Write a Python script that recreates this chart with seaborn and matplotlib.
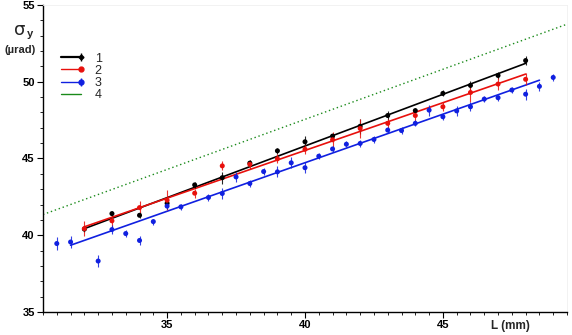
import numpy as np
import pandas as pd
import matplotlib
matplotlib.use("Agg")
import matplotlib.pyplot as plt
from matplotlib.lines import Line2D
from matplotlib.legend_handler import HandlerTuple, HandlerLine2D
from matplotlib.ticker import MultipleLocator
import seaborn as sns

# ---------------- data ----------------
x1 = [32, 33, 34, 35, 36, 37, 38, 39, 40, 41, 42, 43, 44, 45, 46, 47, 48]
y1 = [40.40, 41.41, 41.30, 42.08, 43.28, 43.75, 44.70, 45.50, 46.09, 46.46,
      47.10, 47.80, 48.12, 49.24, 49.76, 50.41, 51.38]
e1 = [0.2, 0.2, 0.2, 0.4, 0.2, 0.4, 0.2, 0.2, 0.4, 0.2,
      0.5, 0.3, 0.2, 0.2, 0.3, 0.2, 0.3]

x2 = [32, 33, 34, 35, 36, 37, 38, 39, 40, 41, 42, 43, 44, 45, 46, 47, 48]
y2 = [40.43, 40.94, 41.80, 42.28, 42.74, 44.52, 44.62, 44.98, 45.60, 46.22,
      46.96, 47.29, 47.80, 48.37, 49.30, 49.85, 50.16]
e2 = [0.5, 0.4, 0.4, 0.65, 0.3, 0.3, 0.3, 0.3, 0.3, 0.5,
      0.6, 0.3, 0.4, 0.3, 0.6, 0.4, 0.4]

x3 = [31, 31.5, 32.5, 33, 33.5, 34, 34.5, 35, 35.5, 36.5, 37, 37.5, 38, 38.5,
      39, 39.5, 40, 40.5, 41, 41.5, 42, 42.5, 43, 43.5, 44, 44.5, 45, 45.5,
      46, 46.5, 47, 47.5, 48, 48.5, 49]
y3 = [39.46, 39.56, 38.32, 40.37, 40.11, 39.66, 40.89, 41.90, 41.85, 42.46,
      42.72, 43.80, 43.37, 44.15, 44.13, 44.72, 44.40, 45.15, 45.62, 45.93,
      45.98, 46.24, 46.85, 46.82, 47.29, 48.15, 47.72, 48.10, 48.37, 48.87,
      48.96, 49.46, 49.19, 49.70, 50.28]
e3 = [0.4, 0.4, 0.4, 0.3, 0.2, 0.3, 0.2, 0.2, 0.2, 0.2,
      0.35, 0.35, 0.2, 0.2, 0.35, 0.35, 0.35, 0.2, 0.2, 0.2,
      0.2, 0.2, 0.2, 0.2, 0.2, 0.35, 0.2, 0.3, 0.3, 0.2,
      0.2, 0.2, 0.35, 0.3, 0.2]

# fitted / model lines (end points)
fit1_x, fit1_y = [32, 48], [40.43, 51.20]
fit2_x, fit2_y = [32, 48], [40.55, 50.50]
fit3_x, fit3_y = [31.5, 48.5], [39.35, 50.10]
fit4_x, fit4_y = [30.5, 49.5], [41.35, 53.75]

series_labels = ["1", "2", "3", "4"]
x_ticks = [35, 40, 45]
y_ticks = [35, 40, 45, 50, 55]

# ---------------- styling ----------------
sns.set_theme(style="ticks")
plt.rcParams["font.family"] = ["Liberation Sans", "DejaVu Sans"]

col1, col2, col3, col4 = "#000000", "#e8100c", "#1020e0", "#1a8a1a"

fig = plt.figure(figsize=(5.72, 3.35), dpi=100)
ax = fig.add_axes([43 / 572, 1 - 312 / 335, 524 / 572, 307 / 335])

pts = pd.concat([
    pd.DataFrame({"L": x1, "s": y1, "e": e1, "series": "1"}),
    pd.DataFrame({"L": x2, "s": y2, "e": e2, "series": "2"}),
    pd.DataFrame({"L": x3, "s": y3, "e": e3, "series": "3"}),
])
fits = pd.concat([
    pd.DataFrame({"L": fit1_x, "s": fit1_y, "series": "1"}),
    pd.DataFrame({"L": fit2_x, "s": fit2_y, "series": "2"}),
    pd.DataFrame({"L": fit3_x, "s": fit3_y, "series": "3"}),
])
palette = {"1": col1, "2": col2, "3": col3}

# model line 4 (dotted)
sns.lineplot(x=fit4_x, y=fit4_y, ax=ax, color=col4, lw=1.0,
             linestyle=(0, (1, 2)), legend=False)

# fit lines
sns.lineplot(data=fits, x="L", y="s", hue="series", palette=palette,
             ax=ax, lw=1.2, legend=False, estimator=None, sort=True)

# error bars
for key, df in pts.groupby("series"):
    ax.errorbar(df["L"], df["s"], yerr=df["e"], fmt="none",
                ecolor=palette[key], elinewidth=0.8, capsize=0, alpha=0.85,
                zorder=3)

# points
sns.scatterplot(data=pts, x="L", y="s", hue="series", palette=palette,
                ax=ax, s=13, linewidth=0, legend=False, zorder=4)

ax.set_xlim(30.5, 49.5)
ax.set_ylim(35, 55)
ax.set_xticks(x_ticks)
ax.set_yticks(y_ticks)
ax.xaxis.set_minor_locator(MultipleLocator(0.5))
ax.yaxis.set_minor_locator(MultipleLocator(1))
ax.tick_params(axis="both", which="major", length=4, width=0.8,
               direction="out", labelsize=8, pad=2, colors="black")
ax.tick_params(axis="both", which="minor", length=2.5, width=0.6,
               direction="out", colors="black")
for lab in ax.get_xticklabels() + ax.get_yticklabels():
    lab.set_fontweight("bold")
ax.set_xlabel("")
ax.set_ylabel("")

for side in ["left", "bottom"]:
    ax.spines[side].set_color("black")
    ax.spines[side].set_linewidth(1.0)
for side in ["top", "right"]:
    ax.spines[side].set_color("#f0f0f0")
    ax.spines[side].set_linewidth(0.6)


# legend: line segment with the marker only at its right end
class EndMarker(HandlerLine2D):
    def create_artists(self, *args, **kwargs):
        arts = super().create_artists(*args, **kwargs)
        for a in arts:
            n = len(a.get_xdata())
            a.set_markevery([n - 1])
        return arts


def mk(c, m, ms):
    return Line2D([0, 1], [0, 0], color=c, marker=m, ms=ms, ls="none")


h1 = (Line2D([0, 1], [0, 0], color=col1, lw=1.6), mk(col1, "|", 6),
      mk(col1, "D", 2.5))
h2 = (Line2D([0, 1], [0, 0], color=col2, lw=1.0), mk(col2, "o", 3.5))
h3 = (Line2D([0, 1], [0, 0], color=col3, lw=1.0), mk(col3, "|", 6),
      mk(col3, "o", 3.5))
h4 = Line2D([0, 1], [0, 0], color=col4, lw=1.0)
ax.legend([h1, h2, h3, h4], series_labels, loc="upper left",
          bbox_to_anchor=(0.034, 0.845), frameon=False, fontsize=9,
          handlelength=1.6, handletextpad=1.1, labelspacing=0.02,
          borderpad=0, borderaxespad=0,
          handler_map={tuple: HandlerTuple(ndivide=1, pad=0),
                       Line2D: EndMarker(numpoints=2, marker_pad=0)})

# axis labels
fig.text(20 / 572, 1 - 30 / 335, "σ", fontsize=13, ha="center", va="center",
         family="DejaVu Sans")
fig.text(27 / 572, 1 - 34 / 335, "y", fontsize=8, ha="left", va="center",
         fontweight="bold")
fig.text(20 / 572, 1 - 50 / 335, "(µrad)", fontsize=8, ha="center",
         va="center", fontweight="bold")
fig.text(510 / 572, 1 - 326 / 335, "L (mm)", fontsize=8.5, ha="center",
         va="center", fontweight="bold")

fig.savefig("out.png", dpi=100)
